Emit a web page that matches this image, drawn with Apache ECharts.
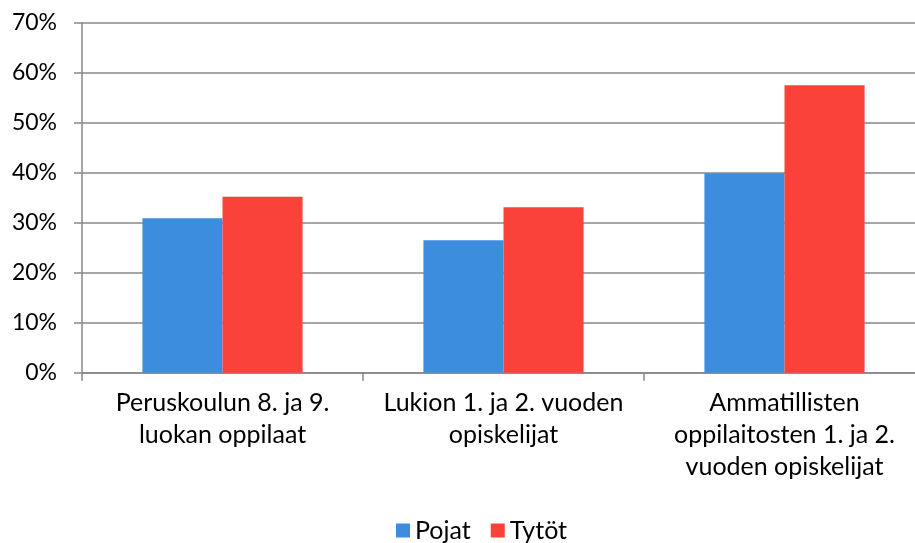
<!DOCTYPE html>
<html>
<head>
<meta charset="utf-8">
<script src="https://cdn.jsdelivr.net/npm/echarts@6/dist/echarts.min.js"></script>
<style>
  html, body { margin: 0; padding: 0; background: #fff; overflow: hidden; }
  /* a bit wider than the window: the original plot area runs past the right edge */
  #chart { width: 930px; height: 543px; }
</style>
</head>
<body>
<div id="chart"></div>
<script>
const categories = [
  'Peruskoulun 8. ja 9.\nluokan oppilaat',
  'Lukion 1. ja 2. vuoden\nopiskelijat',
  'Ammatillisten\noppilaitosten 1. ja 2.\nvuoden opiskelijat'
];
const pojat = [30.9, 26.5, 39.9];
const tytot = [35.2, 33.1, 57.5];

const font = 'Lato, "Open Sans", sans-serif';
const chart = echarts.init(document.getElementById('chart'));

chart.setOption({
  animation: false,
  textStyle: { fontFamily: font },
  grid: { left: 82, right: 5, top: 22.7, bottom: 170.3, containLabel: false },
  legend: {
    left: 391, top: 513,
    itemWidth: 14, itemHeight: 14, itemGap: 20,
    icon: 'rect',
    textStyle: { fontFamily: font, fontSize: 25, color: '#000' },
    data: ['Pojat', 'Tytöt']
  },
  xAxis: {
    type: 'category',
    data: categories,
    axisLine: { lineStyle: { color: '#888', width: 1.5 } },
    axisTick: { show: true, length: 8, lineStyle: { color: '#888', width: 1.5 } },
    axisLabel: { interval: 0, color: '#000', fontSize: 25, lineHeight: 32, margin: 14, fontFamily: font }
  },
  yAxis: {
    type: 'value',
    min: 0, max: 70, interval: 10,
    axisLine: { show: true, lineStyle: { color: '#888', width: 1.5 } },
    axisTick: { show: true, length: 8, lineStyle: { color: '#888', width: 1.5 } },
    splitLine: { lineStyle: { color: '#888', width: 1.6 } },
    axisLabel: { color: '#000', fontSize: 23, margin: 25, formatter: '{value}%', fontFamily: font }
  },
  series: [
    {
      name: 'Pojat', type: 'bar', data: pojat,
      barGap: '0%', barCategoryGap: '43%',
      itemStyle: { color: '#3c8dde' }
    },
    {
      name: 'Tytöt', type: 'bar', data: tytot,
      barGap: '0%', barCategoryGap: '43%',
      itemStyle: { color: '#fa423b' }
    }
  ]
});
</script>
</body>
</html>
